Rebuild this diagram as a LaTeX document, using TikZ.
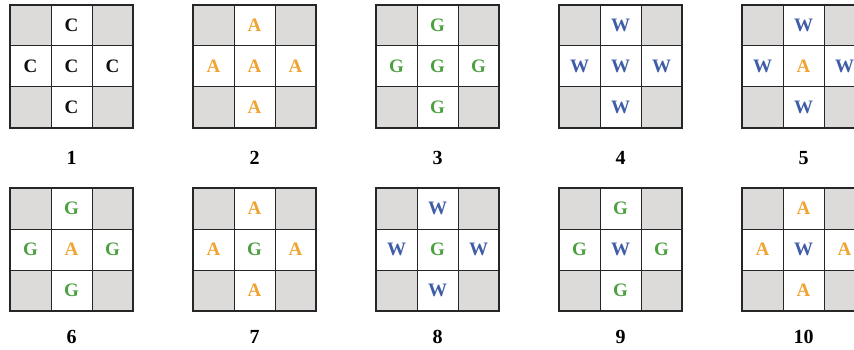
\documentclass[tikz,border=0pt]{standalone}
\usepackage{fontspec}
\setmainfont{Liberation Serif}
\definecolor{cA}{RGB}{240,163,48}
\definecolor{cG}{RGB}{76,160,64}
\definecolor{cW}{RGB}{62,92,168}
\definecolor{cC}{RGB}{15,15,15}
\definecolor{hatch}{RGB}{221,219,217}
\begin{document}
\begin{tikzpicture}[x=1pt,y=-1pt,
  letter/.style={font=\fontsize{19}{19}\selectfont\bfseries, inner sep=0pt},
  lbl/.style={font=\fontsize{20}{20}\selectfont\bfseries, inner sep=0pt},
  corner/.style={fill=hatch},
  inner line/.style={line width=1pt, draw=black!85},
  outer line/.style={line width=2pt, draw=black!85}]
\useasboundingbox (0,0) rectangle (854,350);
\clip (0,0) rectangle (854,350);
\foreach \n/\ol/\oc/\cl/\cc [count=\i from 0] in {
  1/C/cC/C/cC, 2/A/cA/A/cA, 3/G/cG/G/cG, 4/W/cW/W/cW, 5/W/cW/A/cA,
  6/G/cG/A/cA, 7/A/cA/G/cG, 8/W/cW/G/cG, 9/G/cG/W/cW, 10/A/cA/W/cW}{
  \pgfmathsetmacro\gx{10+183*mod(\i,5)}
  \pgfmathsetmacro\gy{\i<5 ? 5 : 188}
  \pgfmathsetmacro\ly{\i<5 ? 158 : 337}
  \fill[corner] (\gx,\gy) rectangle ++(41,41);
  \fill[corner] (\gx+82,\gy) rectangle ++(41,41);
  \fill[corner] (\gx,\gy+82) rectangle ++(41,41);
  \fill[corner] (\gx+82,\gy+82) rectangle ++(41,41);
  \draw[inner line] (\gx+41,\gy) -- ++(0,123);
  \draw[inner line] (\gx+82,\gy) -- ++(0,123);
  \draw[inner line] (\gx,\gy+41) -- ++(123,0);
  \draw[inner line] (\gx,\gy+82) -- ++(123,0);
  \draw[outer line] (\gx,\gy) rectangle ++(123,123);
  \node[letter, text=\oc] (t\n) at (\gx+61.5,\gy+20.5) {\ol};
  \node[letter, text=\oc] (l\n) at (\gx+20.5,\gy+61.5) {\ol};
  \node[letter, text=\oc] (r\n) at (\gx+102.5,\gy+61.5) {\ol};
  \node[letter, text=\oc] (b\n) at (\gx+61.5,\gy+102.5) {\ol};
  \node[letter, text=\cc] (c\n) at (\gx+61.5,\gy+61.5) {\cl};
  \node[lbl] (n\n) at (\gx+61.5,\ly) {\n};
}
\end{tikzpicture}
\end{document}
